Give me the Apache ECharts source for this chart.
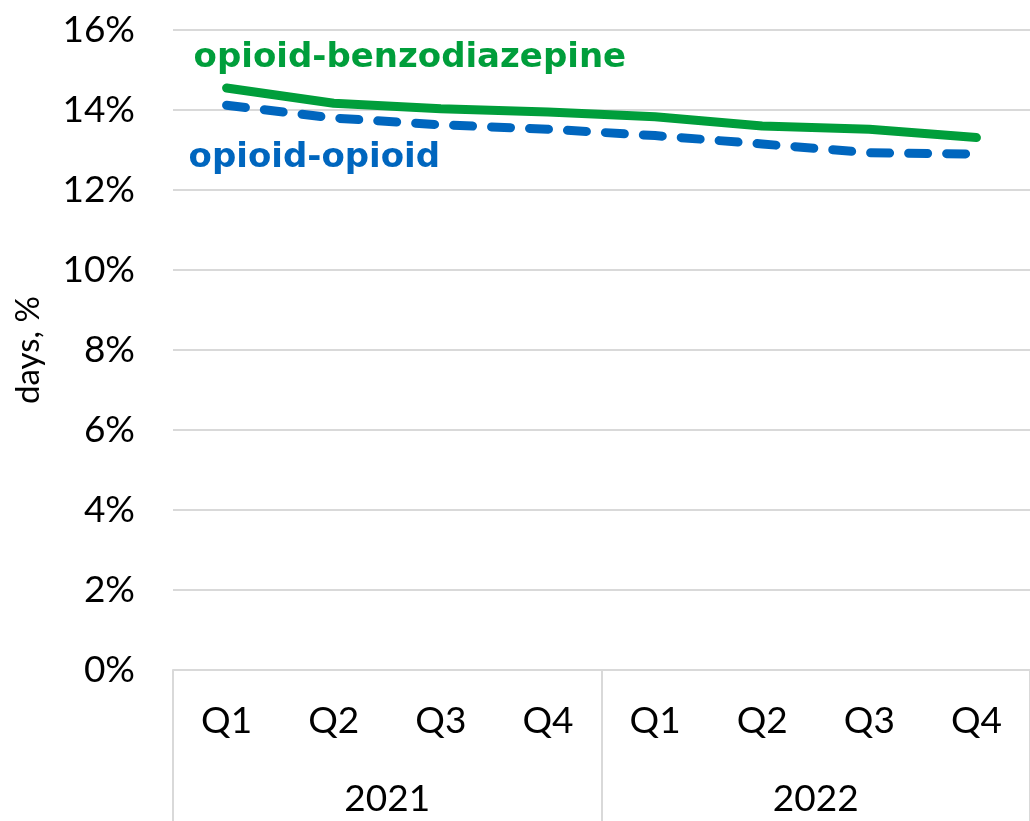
<!DOCTYPE html>
<html>
<head>
<meta charset="utf-8">
<script src="https://cdn.jsdelivr.net/npm/echarts@6/dist/echarts.min.js"></script>
<style>
  html, body { margin: 0; padding: 0; background: #fff; }
  #chart { width: 1030px; height: 821px; }
</style>
</head>
<body>
<div id="chart"></div>
<script>
// quarters (inner axis row) and years (outer axis row)
const quarters = ['Q1', 'Q2', 'Q3', 'Q4', 'Q1', 'Q2', 'Q3', 'Q4']
const years = ['2021', '2022']

// share of days, %
const benzoValues = [14.55, 14.17, 14.03, 13.95, 13.83, 13.6, 13.52, 13.31]
const opioidValues = [14.12, 13.8, 13.63, 13.52, 13.36, 13.15, 12.93, 12.9]

const FONT = 'Lato, "DejaVu Sans", sans-serif'
const LABEL_FONT = '"DejaVu Sans", "Open Sans", sans-serif'
const GRID_COLOR = '#d9d9d9'
const GREEN = '#009E3B'
const BLUE = '#0066BE'

// label only on the first point of each series
function withStartLabel(values) {
  return values.map((v, i) => i === 0 ? { value: v, label: { show: true } } : v)
}

const chart = echarts.init(document.getElementById('chart'), null, { renderer: 'canvas' })

chart.setOption({
  animation: false,
  backgroundColor: '#fff',
  grid: { left: 173, right: 0, top: 30, bottom: 151, containLabel: false },
  xAxis: [
    {
      type: 'category',
      data: quarters,
      boundaryGap: true,
      axisLine: { show: true, lineStyle: { color: GRID_COLOR, width: 2 } },
      axisTick: { show: false },
      axisLabel: { color: '#000', fontSize: 37, fontFamily: FONT, margin: 33, interval: 0 },
    },
    {
      type: 'category',
      data: years,
      position: 'bottom',
      boundaryGap: true,
      axisLine: { show: false },
      axisTick: { show: true, interval: 0, length: 151, lineStyle: { color: GRID_COLOR, width: 2 } },
      axisLabel: { color: '#000', fontSize: 37, fontFamily: FONT, margin: 111, interval: 0 },
    },
  ],
  yAxis: {
    type: 'value',
    min: 0,
    max: 16,
    interval: 2,
    name: 'days, %',
    nameLocation: 'middle',
    nameGap: 128,
    nameTextStyle: { color: '#000', fontSize: 33, fontFamily: FONT },
    axisLine: { show: false },
    axisTick: { show: false },
    axisLabel: { color: '#000', fontSize: 37, fontFamily: FONT, margin: 38, formatter: v => v + '%' },
    splitLine: { lineStyle: { color: GRID_COLOR, width: 2 } },
  },
  series: [
    {
      name: 'opioid-benzodiazepine',
      type: 'line',
      xAxisIndex: 0,
      showSymbol: true,
      symbol: 'circle',
      symbolSize: 0,
      lineStyle: { color: GREEN, width: 9, cap: 'round' },
      itemStyle: { color: GREEN },
      label: {
        position: 'top', align: 'left', offset: [-33, -8],
        formatter: 'opioid-benzodiazepine',
        color: GREEN, fontSize: 34, fontWeight: 'bold', fontFamily: LABEL_FONT,
      },
      data: withStartLabel(benzoValues),
    },
    {
      name: 'opioid-opioid',
      type: 'line',
      xAxisIndex: 0,
      showSymbol: true,
      symbol: 'circle',
      symbolSize: 0,
      lineStyle: { color: BLUE, width: 9, type: [19, 19], cap: 'round' },
      itemStyle: { color: BLUE },
      label: {
        position: 'bottom', align: 'left', offset: [-38, 31],
        formatter: 'opioid-opioid',
        color: BLUE, fontSize: 34, fontWeight: 'bold', fontFamily: LABEL_FONT,
      },
      data: withStartLabel(opioidValues),
    },
  ],
})
</script>
</body>
</html>
